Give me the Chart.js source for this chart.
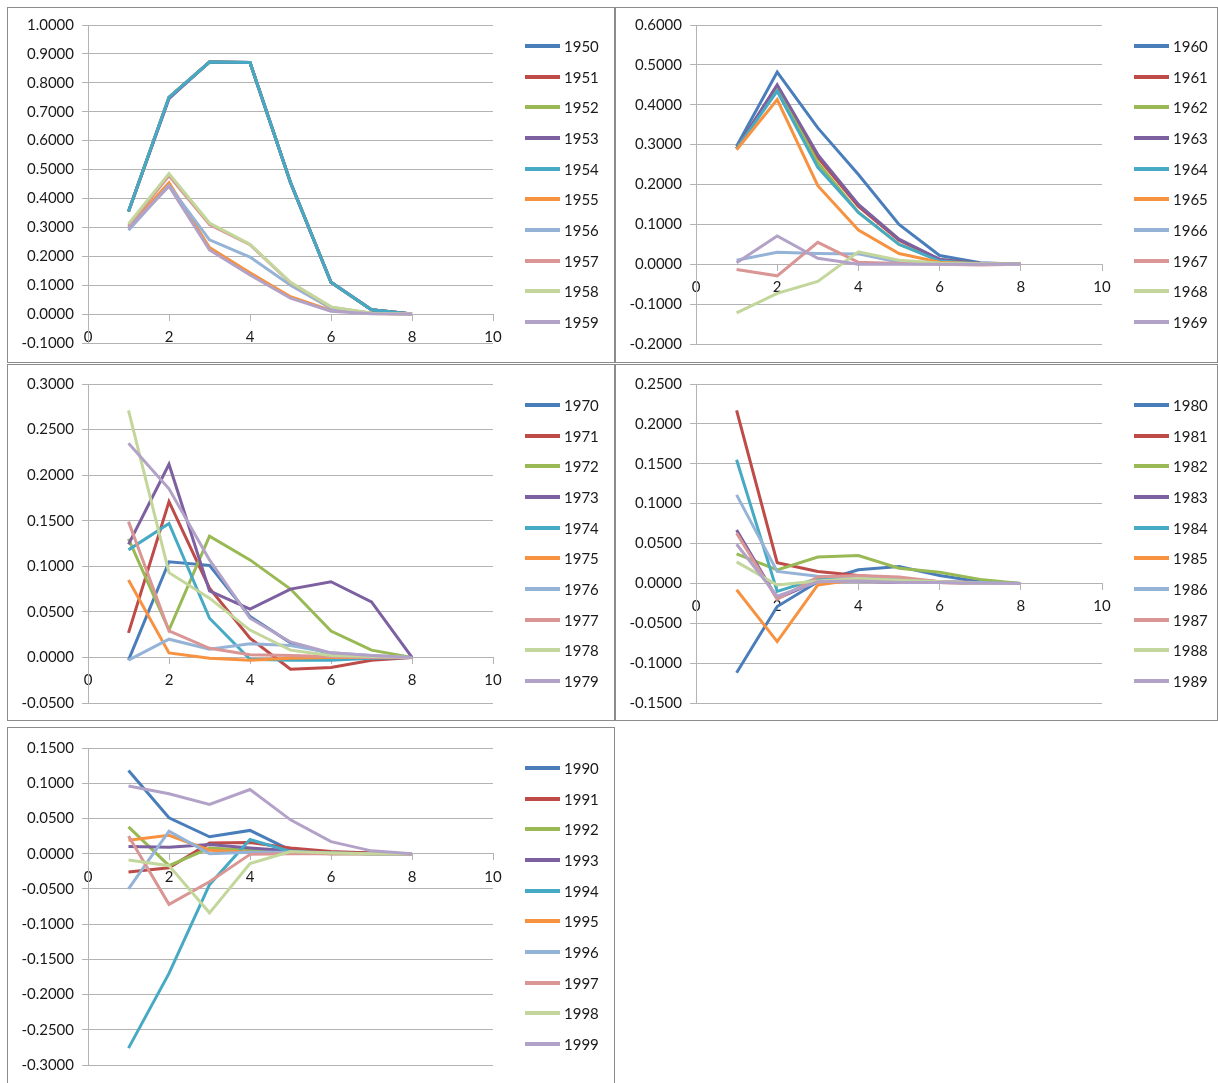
<!DOCTYPE html>
<html>
<head>
<meta charset="utf-8">
<title>Yearly profiles by decade</title>
<script src="https://cdn.jsdelivr.net/npm/chart.js@4.4.1/dist/chart.umd.min.js"></script>
<style>
  html, body { margin: 0; padding: 0; background: #ffffff; width: 1218px; height: 1083px; overflow: hidden; }
  .panel { position: absolute; box-sizing: border-box; border: 1px solid #8c8c8c; background: #ffffff; }
  .panel canvas { position: absolute; left: 0; top: 0; }
</style>
</head>
<body>
<div class="panel" id="p1950"><canvas></canvas></div>
<div class="panel" id="p1960"><canvas></canvas></div>
<div class="panel" id="p1970"><canvas></canvas></div>
<div class="panel" id="p1980"><canvas></canvas></div>
<div class="panel" id="p1990"><canvas></canvas></div>
<script>
// Step index shared by every series (x axis)
const steps = [1, 2, 3, 4, 5, 6, 7, 8];

// Series names per decade
const years1950s = ['1950', '1951', '1952', '1953', '1954', '1955', '1956', '1957', '1958', '1959'];
const years1960s = ['1960', '1961', '1962', '1963', '1964', '1965', '1966', '1967', '1968', '1969'];
const years1970s = ['1970', '1971', '1972', '1973', '1974', '1975', '1976', '1977', '1978', '1979'];
const years1980s = ['1980', '1981', '1982', '1983', '1984', '1985', '1986', '1987', '1988', '1989'];
const years1990s = ['1990', '1991', '1992', '1993', '1994', '1995', '1996', '1997', '1998', '1999'];

// Values per year, one row per series, one column per step
const values1950s = [
  [0.355, 0.750, 0.872, 0.870, 0.455, 0.110, 0.015, 0.000],
  [0.355, 0.750, 0.872, 0.870, 0.455, 0.110, 0.015, 0.000],
  [0.355, 0.750, 0.872, 0.870, 0.455, 0.110, 0.015, 0.000],
  [0.355, 0.745, 0.872, 0.870, 0.455, 0.110, 0.015, 0.000],
  [0.355, 0.750, 0.872, 0.870, 0.455, 0.110, 0.015, 0.000],
  [0.300, 0.454, 0.230, 0.143, 0.060, 0.013, 0.002, 0.000],
  [0.290, 0.445, 0.257, 0.197, 0.100, 0.020, 0.003, 0.000],
  [0.305, 0.478, 0.310, 0.240, 0.108, 0.024, 0.003, 0.000],
  [0.312, 0.486, 0.315, 0.242, 0.110, 0.025, 0.003, 0.000],
  [0.297, 0.442, 0.222, 0.135, 0.055, 0.010, 0.001, 0.000]
];
const values1960s = [
  [0.296, 0.482, 0.342, 0.225, 0.100, 0.022, 0.004, 0.000],
  [0.290, 0.448, 0.268, 0.145, 0.060, 0.012, 0.002, 0.000],
  [0.290, 0.440, 0.255, 0.130, 0.050, 0.010, 0.002, 0.000],
  [0.290, 0.450, 0.275, 0.150, 0.063, 0.012, 0.002, 0.000],
  [0.290, 0.434, 0.243, 0.130, 0.050, 0.008, 0.001, 0.000],
  [0.287, 0.413, 0.197, 0.086, 0.027, 0.005, 0.001, 0.000],
  [0.010, 0.030, 0.027, 0.026, 0.005, 0.001, 0.000, 0.000],
  [-0.013, -0.029, 0.055, 0.005, 0.002, 0.000, -0.002, 0.000],
  [-0.122, -0.073, -0.043, 0.031, 0.010, 0.003, 0.001, 0.000],
  [0.004, 0.071, 0.015, 0.000, 0.000, 0.000, 0.000, 0.000]
];
const values1970s = [
  [-0.003, 0.105, 0.101, 0.045, 0.016, 0.004, 0.001, 0.000],
  [0.027, 0.171, 0.076, 0.021, -0.013, -0.011, -0.003, 0.000],
  [0.130, 0.030, 0.133, 0.107, 0.075, 0.029, 0.008, 0.000],
  [0.124, 0.212, 0.073, 0.053, 0.075, 0.083, 0.061, 0.000],
  [0.118, 0.147, 0.043, -0.002, -0.003, -0.003, -0.001, 0.000],
  [0.085, 0.005, -0.001, -0.003, -0.001, 0.000, 0.000, 0.000],
  [-0.003, 0.020, 0.009, 0.015, 0.013, 0.005, 0.002, 0.000],
  [0.149, 0.029, 0.010, 0.003, 0.002, 0.001, 0.000, 0.000],
  [0.271, 0.093, 0.065, 0.030, 0.008, 0.002, 0.001, 0.000],
  [0.235, 0.185, 0.107, 0.043, 0.017, 0.005, 0.002, 0.000]
];
const values1980s = [
  [-0.112, -0.029, 0.002, 0.017, 0.021, 0.010, 0.002, 0.000],
  [0.217, 0.026, 0.015, 0.010, 0.006, 0.002, 0.001, 0.000],
  [0.037, 0.017, 0.033, 0.035, 0.019, 0.014, 0.005, 0.000],
  [0.067, -0.019, 0.003, 0.003, 0.001, 0.001, 0.000, 0.000],
  [0.155, -0.010, 0.006, 0.008, 0.004, 0.002, 0.000, 0.000],
  [-0.008, -0.073, -0.002, 0.005, 0.003, 0.001, 0.000, 0.000],
  [0.111, 0.015, 0.009, 0.008, 0.005, 0.002, 0.001, 0.000],
  [0.063, -0.020, 0.008, 0.010, 0.008, 0.002, 0.000, 0.000],
  [0.027, -0.002, 0.003, 0.006, 0.004, 0.002, 0.000, 0.000],
  [0.049, -0.016, 0.002, 0.003, 0.001, 0.001, 0.000, 0.000]
];
const values1990s = [
  [0.118, 0.051, 0.024, 0.033, 0.005, 0.002, 0.001, 0.000],
  [-0.026, -0.020, 0.015, 0.016, 0.008, 0.003, 0.001, 0.000],
  [0.038, -0.017, 0.008, 0.005, 0.002, 0.001, 0.000, 0.000],
  [0.010, 0.009, 0.013, 0.008, 0.004, 0.001, 0.000, 0.000],
  [-0.276, -0.170, -0.044, 0.020, 0.003, 0.000, 0.000, 0.000],
  [0.019, 0.026, 0.005, 0.002, 0.001, 0.000, 0.000, 0.000],
  [-0.050, 0.032, 0.000, 0.002, 0.002, 0.001, 0.000, 0.000],
  [0.025, -0.072, -0.040, -0.001, 0.000, 0.000, 0.000, 0.000],
  [-0.009, -0.017, -0.084, -0.014, 0.003, 0.001, 0.000, 0.000],
  [0.096, 0.085, 0.070, 0.091, 0.048, 0.017, 0.004, 0.000]
];

// Y axis ranges per decade: [min, max, step]
const yRange1950s = [-0.1, 1.0, 0.1];
const yRange1960s = [-0.2, 0.6, 0.1];
const yRange1970s = [-0.05, 0.3, 0.05];
const yRange1980s = [-0.15, 0.25, 0.05];
const yRange1990s = [-0.3, 0.15, 0.05];

// X axis ticks
const xTicks = [0, 2, 4, 6, 8, 10];

// Series palette (one colour per year within a decade)
const palette = ['#4A7EBB', '#BE4B48', '#98B954', '#7D60A0', '#46AAC5',
                 '#F69240', '#95B3D7', '#D99694', '#C3D69B', '#B3A2C7'];

const FONT = { family: 'Lato, "Open Sans", sans-serif', size: 15 };
const TEXT = '#1a1a1a';
const GRID = '#b3b3b3';

// Panel frames on the page, the plot rectangle inside each one, and where the key starts
const panels = [
  { id: 'p1950', box: [7, 7, 608, 356],   plot: [88, 25, 493, 343],    years: years1950s, values: values1950s, range: yRange1950s, keyX: 525,  keyY: 46 },
  { id: 'p1960', box: [615, 7, 603, 356], plot: [696, 25, 1102, 344],  years: years1960s, values: values1960s, range: yRange1960s, keyX: 1134, keyY: 46 },
  { id: 'p1970', box: [7, 364, 608, 357], plot: [88, 384, 493, 703],   years: years1970s, values: values1970s, range: yRange1970s, keyX: 525,  keyY: 405 },
  { id: 'p1980', box: [615, 364, 603, 357], plot: [696, 384, 1102, 703], years: years1980s, values: values1980s, range: yRange1980s, keyX: 1134, keyY: 405 },
  { id: 'p1990', box: [7, 727, 608, 360], plot: [88, 748, 493, 1065],  years: years1990s, values: values1990s, range: yRange1990s, keyX: 525,  keyY: 768 }
];

// Key on the right: a short coloured stroke followed by the year
const seriesKey = {
  id: 'seriesKey',
  afterDraw(chart, args, opts) {
    const ctx = chart.ctx;
    const sets = chart.data.datasets;
    ctx.save();
    ctx.font = FONT.size + 'px ' + FONT.family;
    ctx.textBaseline = 'middle';
    ctx.textAlign = 'left';
    sets.forEach((ds, i) => {
      const y = Math.round(opts.y0 + i * opts.gap);
      ctx.strokeStyle = ds.borderColor;
      ctx.lineWidth = 4;
      ctx.lineCap = 'butt';
      ctx.beginPath();
      ctx.moveTo(opts.x, y);
      ctx.lineTo(opts.x + 35, y);
      ctx.stroke();
      ctx.fillStyle = TEXT;
      ctx.fillText(ds.label, opts.x + 39, y + 1);
    });
    ctx.restore();
  }
};

function build() {
  panels.forEach(p => {
    const el = document.getElementById(p.id);
    const [bx, by, bw, bh] = p.box;
    el.style.left = bx + 'px';
    el.style.top = by + 'px';
    el.style.width = bw + 'px';
    el.style.height = bh + 'px';
    const cx = bx + 1, cy = by + 1, cw = bw - 2, ch = bh - 2;
    const canvas = el.querySelector('canvas');
    canvas.width = cw;
    canvas.height = ch;
    canvas.style.width = cw + 'px';
    canvas.style.height = ch + 'px';

    const [pl, pt, pr, pb] = p.plot;
    const axisWidth = pl - cx;

    const datasets = p.years.map((yr, i) => ({
      label: yr,
      data: steps.map((s, k) => ({ x: s, y: p.values[i][k] })),
      borderColor: palette[i],
      backgroundColor: palette[i],
      borderWidth: 3,
      pointRadius: 0,
      tension: 0,
      fill: false,
      order: p.years.length - i
    }));

    new Chart(canvas, {
      type: 'line',
      data: { datasets },
      plugins: [seriesKey],
      options: {
        responsive: false,
        animation: false,
        events: [],
        layout: { padding: { left: 0, top: pt - cy, right: (cx + cw) - pr, bottom: (cy + ch) - pb } },
        plugins: {
          legend: { display: false },
          tooltip: { enabled: false },
          seriesKey: { x: p.keyX - cx, y0: p.keyY - cy, gap: 30.67 }
        },
        scales: {
          x: {
            type: 'linear',
            position: { y: 0 },
            min: xTicks[0],
            max: xTicks[xTicks.length - 1],
            afterBuildTicks(scale) { scale.ticks = xTicks.map(v => ({ value: v })); },
            ticks: { font: FONT, color: TEXT, padding: 8, maxRotation: 0, autoSkip: false,
                     callback: v => String(v) },
            grid: { drawOnChartArea: false, tickLength: 6, color: GRID },
            border: { color: GRID, width: 1 }
          },
          y: {
            min: p.range[0],
            max: p.range[1],
            ticks: { stepSize: p.range[2], font: FONT, color: TEXT, padding: 8,
                     callback: v => (Math.abs(v) < 1e-9 ? 0 : v).toFixed(4) },
            grid: { color: GRID, lineWidth: 1, tickLength: 6 },
            border: { color: GRID, width: 1 },
            afterFit(scale) { scale.width = axisWidth; }
          }
        }
      }
    });
  });
}

if (document.fonts && document.fonts.load) {
  document.fonts.load('15px Lato').then(build, build);
} else {
  build();
}
</script>
</body>
</html>
